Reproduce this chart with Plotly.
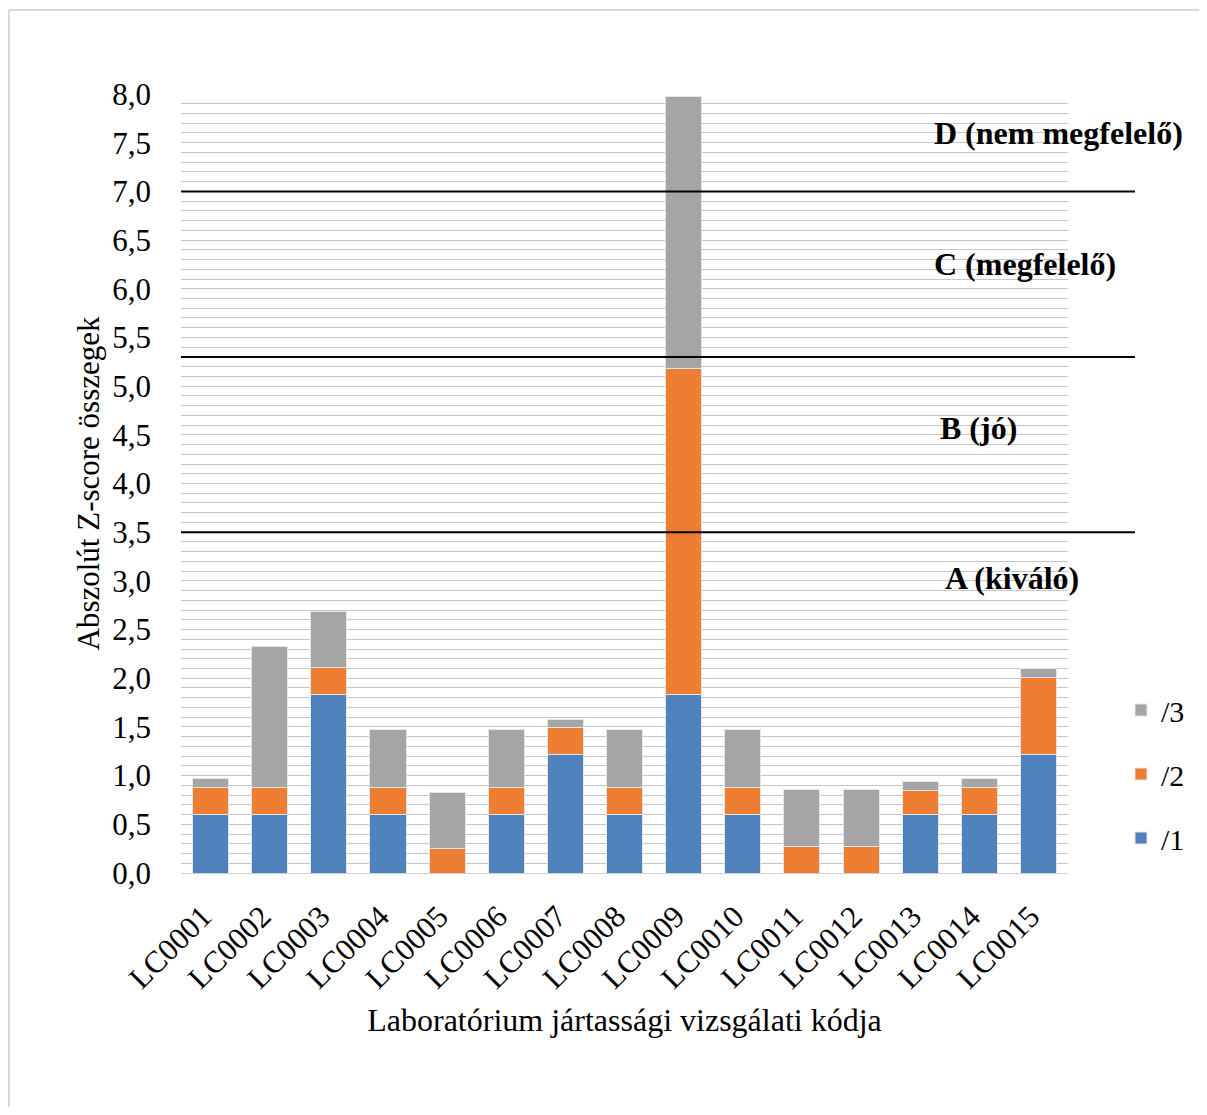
import plotly.graph_objects as go

labs = ["LC0001", "LC0002", "LC0003", "LC0004", "LC0005", "LC0006", "LC0007", "LC0008",
        "LC0009", "LC0010", "LC0011", "LC0012", "LC0013", "LC0014", "LC0015"]
s1 = [0.60, 0.60, 1.83, 0.60, 0.00, 0.60, 1.22, 0.60, 1.83, 0.60, 0.00, 0.00, 0.60, 0.60, 1.22]
s2 = [0.28, 0.28, 0.28, 0.28, 0.25, 0.28, 0.27, 0.28, 3.35, 0.28, 0.27, 0.27, 0.25, 0.28, 0.79]
s3 = [0.09, 1.45, 0.58, 0.59, 0.58, 0.59, 0.09, 0.59, 2.79, 0.59, 0.59, 0.59, 0.09, 0.09, 0.09]
thresholds = [7.0, 5.3, 3.5]
zone_labels = ["D (nem megfelelő)", "C (megfelelő)", "B (jó)", "A (kiváló)"]
zone_y = [7.6, 6.25, 4.57, 3.03]
zone_x = [0.989, 0.951, 0.899, 0.937]

FONT = "Liberation Serif"
W, H = 1191, 1099
L, R, T, B = 173, 1060, 86, 865
pw, ph = R - L, B - T

fig = go.Figure()
series = [("/1", s1, "#4F81BD", 3), ("/2", s2, "#ED7D31", 2), ("/3", s3, "#A5A5A5", 1)]
for name, vals, col, rank in series:
    fig.add_trace(go.Bar(x=labs, y=vals, name=name, legendgroup=name, legendrank=rank,
                         marker=dict(color=col, line=dict(color="#e6e6e6", width=1))))

shapes = []
for t in thresholds:
    shapes.append(dict(type="line", xref="paper", yref="y", x0=0, x1=(1135 - 181) / pw,
                       y0=t, y1=t, line=dict(color="black", width=2)))
bx = (1 - L) / pw
by = (B - 2) / ph
shapes.append(dict(type="line", xref="paper", yref="paper", x0=bx, x1=bx,
                   y0=by, y1=(B - H - 5) / ph, line=dict(color="#d9d9d9", width=2), layer="below"))
shapes.append(dict(type="line", xref="paper", yref="paper", x0=bx, x1=(W + 5 - L) / pw,
                   y0=by, y1=by, line=dict(color="#d9d9d9", width=2), layer="below"))

annotations = []
for txt, yv, xv in zip(zone_labels, zone_y, zone_x):
    annotations.append(dict(text="<b>" + txt + "</b>", x=xv, y=yv, xref="paper", yref="y",
                            showarrow=False, xanchor="center", yanchor="middle",
                            font=dict(family=FONT, size=32, color="black")))

fig.update_layout(
    width=W, height=H,
    margin=dict(l=L, r=W - R, t=T, b=H - B, pad=0, autoexpand=False),
    barmode="stack", bargap=0.39,
    plot_bgcolor="white", paper_bgcolor="white",
    separators=", ",
    font=dict(family=FONT, size=31, color="black"),
    shapes=shapes, annotations=annotations,
    legend=dict(traceorder="grouped", tracegroupgap=22,
                xref="container", yref="container",
                x=1113 / W, xanchor="left", y=1 - 676 / H, yanchor="top",
                font=dict(family=FONT, size=30), bgcolor="rgba(0,0,0,0)",
                itemwidth=30),
    xaxis=dict(tickangle=-45, tickfont=dict(family=FONT, size=31), showgrid=False,
               showline=True, linecolor="#d0d0d0", ticks="", ticklabelstandoff=12,
               ticklabelshift=-8,
               title=dict(text="Laboratórium jártassági vizsgálati kódja",
                          font=dict(family=FONT, size=32), standoff=14)),
    yaxis=dict(range=[0, 8.0], dtick=0.5, tickformat=".1f",
               tickfont=dict(family=FONT, size=31),
               showgrid=True, gridcolor="#c6c6c6", gridwidth=1, zeroline=False,
               ticks="", ticklabelstandoff=29,
               minor=dict(dtick=0.1, showgrid=True, gridcolor="#c6c6c6", gridwidth=1),
               title=dict(text="Abszolút Z-score összegek",
                          font=dict(family=FONT, size=31), standoff=3)),
)

fig.write_html("out.html")
